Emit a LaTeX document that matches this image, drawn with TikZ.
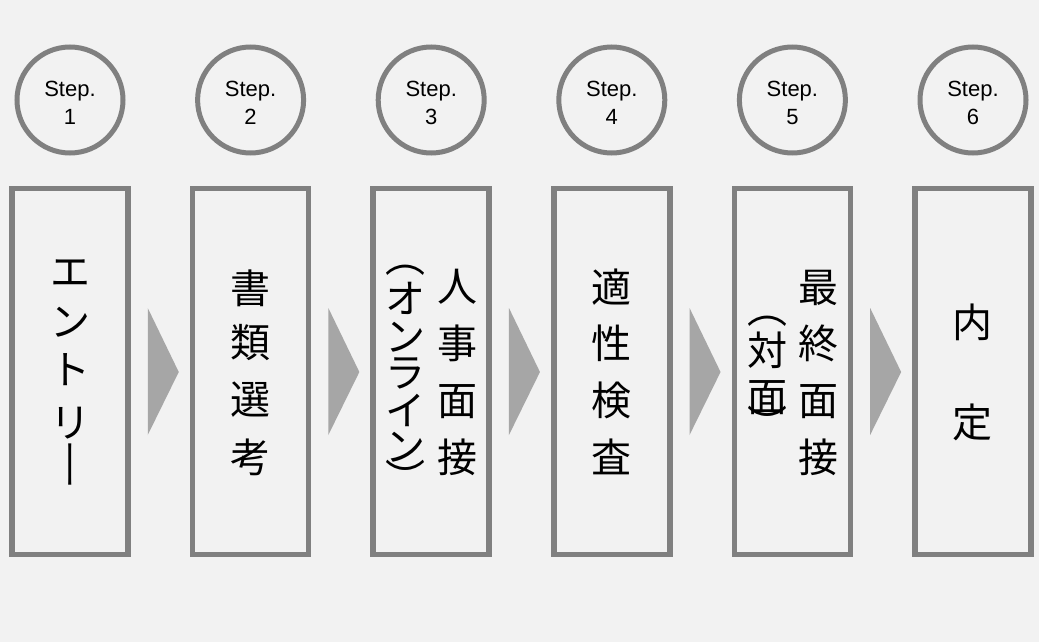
\documentclass[tikz,border=0pt]{standalone}
\usepackage{fontspec}
\setmainfont{Liberation Sans}
\newfontfamily\jpfont{Noto Sans CJK JP}
\definecolor{bgc}{HTML}{F2F2F2}
\definecolor{linec}{HTML}{808080}
\definecolor{arrc}{HTML}{A6A6A6}
\begin{document}
\begin{tikzpicture}[x=1pt,y=-1pt,
  stepcircle/.style={circle, draw=linec, line width=5pt, fill=bgc, minimum size=106pt, inner sep=0pt},
  stepbox/.style={rectangle, draw=linec, line width=5.5pt, fill=bgc, minimum width=116pt, minimum height=366pt, inner sep=0pt},
  steplabel/.style={anchor=base, inner sep=0pt, font=\fontsize{22}{26}\selectfont},
  jp/.style={inner sep=0pt, text=black, font=\jpfont\fontsize{40}{40}\selectfont},
  chev/.style={fill=arrc, draw=none}]
\useasboundingbox (0,0) rectangle (1039,642);
\fill[bgc] (0,0) rectangle (1039,642);
% circles, labels and boxes
\foreach \cx [count=\i] in {70,250.6,431.2,611.8,792.4,973}{
  \node[stepcircle] (c\i) at (\cx,100) {};
  \node[steplabel] (sa\i) at (\cx,96) {Step.};
  \node[steplabel] (sb\i) at (\cx,124) {\i};
  \node[stepbox] (b\i) at (\cx,371.5) {};
}
% chevrons between boxes
\foreach \i in {1,...,5}{
  \fill[chev] ([shift={(17,-63.5)}]b\i.east) -- ([shift={(48,0.5)}]b\i.east) -- ([shift={(17,63.5)}]b\i.east) -- cycle;
}
% box 1
\foreach \ch/\yy [count=\j] in {エ/273,ン/322,ト/370,リ/423}
  \node[jp] (t1-\j) at (70,\yy) {\ch};
\node[jp] (t1-5) at (75.5,464) {\rotatebox{90}{\scalebox{1.3}[0.8]{ー}}};
% box 2
\foreach \ch/\yy [count=\j] in {書/288,類/343,選/400,考/457}
  \node[jp] (t2-\j) at (250.6,\yy) {\ch};
% box 3
\foreach \ch/\yy [count=\j] in {人/287,事/343,面/402,接/457}
  \node[jp] (t3r-\j) at (457,\yy) {\ch};
\foreach \ch/\yy [count=\j] in {︵/270,オ/298,ン/337,ラ/373,イ/410,ン/447,︶/477}
  \node[jp] (t3l-\j) at (405,\yy) {\ch};
% box 4
\foreach \ch/\yy [count=\j] in {適/287,性/343,検/400,査/457}
  \node[jp] (t4-\j) at (611.8,\yy) {\ch};
% box 5
\foreach \ch/\yy [count=\j] in {最/288,終/343,面/402,接/457}
  \node[jp] (t5r-\j) at (818,\yy) {\ch};
\foreach \ch/\yy [count=\j] in {︵/321,対/350,面/398,︶/423}
  \node[jp] (t5l-\j) at (767,\yy) {\ch};
% box 6
\node[jp] (t6-1) at (972.5,322) {内};
\node[jp] (t6-2) at (972.5,422) {定};
\end{tikzpicture}
\end{document}
